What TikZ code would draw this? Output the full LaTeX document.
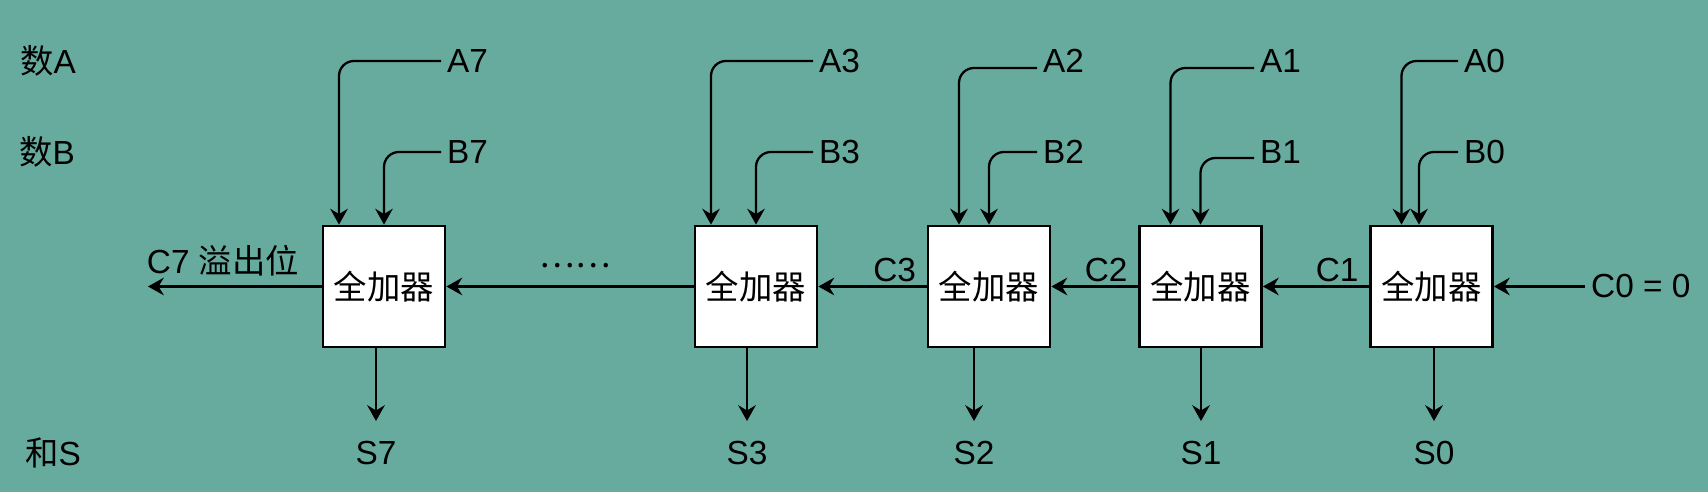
\documentclass[tikz,border=0pt]{standalone}
\usepackage{fontspec}
\setmainfont{Liberation Sans}
\newfontfamily\cjk{Noto Sans CJK SC}
\usetikzlibrary{arrows.meta}
\definecolor{bgteal}{HTML}{67AB9F}

\begin{document}
\begin{tikzpicture}[x=0.02cm,y=-0.02cm,line width=1.3pt,
  >={Stealth[length=9pt,width=10pt,inset=3pt]},
  every node/.style={font=\fontsize{19}{23}\selectfont,inner sep=0.1cm},
  adder/.style={draw,fill=white,line width=1.6pt,minimum width=2.44cm,minimum height=2.42cm,inner sep=0pt},
  sumlbl/.style={inner ysep=0.38cm},
  carry/.style={above left,inner xsep=0.19cm,inner ysep=0.08cm},
  feed/.style={->,rounded corners=0.3cm}]
\fill[color=bgteal] (0,0) rectangle (1708,492);

\node[adder] (F7) at (384,286.5) {{\cjk 全加器}};
\node[adder] (F3) at (756,286.5) {{\cjk 全加器}};
\node[adder] (F2) at (989,286.5) {{\cjk 全加器}};
\node[adder] (F1) at (1200.5,286.5) {{\cjk 全加器}};
\node[adder] (F0) at (1431.5,286.5) {{\cjk 全加器}};

\node (numA) at (48,61) {{\cjk 数}A};
\node (numB) at (47,152) {{\cjk 数}B};
\node (sumS) at (53,453) {{\cjk 和}S};

\node[anchor=west] (A7) at (441,61) {A7};
\node[anchor=west] (B7) at (441,152) {B7};
\node[sumlbl] (S7) at (376,453) {S7};
\draw[feed] (A7.west) -| ([xshift=-0.9cm]F7.north);
\draw[feed] (B7.west) -| (F7.north);
\draw[->] (F7.south -| S7) -- (S7);

\node[anchor=west] (A3) at (813,61) {A3};
\node[anchor=west] (B3) at (813,152) {B3};
\node[sumlbl] (S3) at (747,453) {S3};
\draw[feed] (A3.west) -| ([xshift=-0.9cm]F3.north);
\draw[feed] (B3.west) -| (F3.north);
\draw[->] (F3.south -| S3) -- (S3);

\node[anchor=west] (A2) at (1037,61) {A2};
\node[anchor=west] (B2) at (1037,152) {B2};
\node[sumlbl] (S2) at (974,453) {S2};
\draw[feed] ([yshift=-0.14cm]A2.west) -| ([xshift=-0.6cm]F2.north);
\draw[feed] (B2.west) -| (F2.north);
\draw[->] (F2.south -| S2) -- (S2);

\node[anchor=west] (A1) at (1254,61) {A1};
\node[anchor=west] (B1) at (1254,152) {B1};
\node[sumlbl] (S1) at (1201,453) {S1};
\draw[feed] ([yshift=-0.14cm]A1.west) -| ([xshift=-0.6cm]F1.north);
\draw[feed] ([yshift=-0.12cm]B1.west) -| (F1.north);
\draw[->] (F1.south -| S1) -- (S1);

\node[anchor=west] (A0) at (1458,61) {A0};
\node[anchor=west] (B0) at (1458,152) {B0};
\node[sumlbl] (S0) at (1434,453) {S0};
\draw[feed] (A0.west) -| ([xshift=-0.6cm]F0.north);
\draw[feed] (B0.west) -| ([xshift=-0.25cm]F0.north);
\draw[->] (F0.south -| S0) -- (S0);

\node[anchor=west] (C0) at (1585,286.5) {C0 = 0};
\draw[->] (C0.west) -- (F0.east);
\draw[->] (F0.west) -- node[carry,pos=0] (C1) {C1} (F1.east);
\draw[->] (F1.west) -- node[carry,pos=0] (C2) {C2} (F2.east);
\draw[->] (F2.west) -- node[carry,pos=0] (C3) {C3} (F3.east);
\draw[->] (F3.west) -- (F7.east);
\node (dots) at (575,266) {{\cjk ……}};

\coordinate (ovf) at (148,286.5);
\draw[->] (F7.west) -- (ovf);
\node (C7) at (223,261) {C7 {\cjk 溢出位}};
\end{tikzpicture}
\end{document}
